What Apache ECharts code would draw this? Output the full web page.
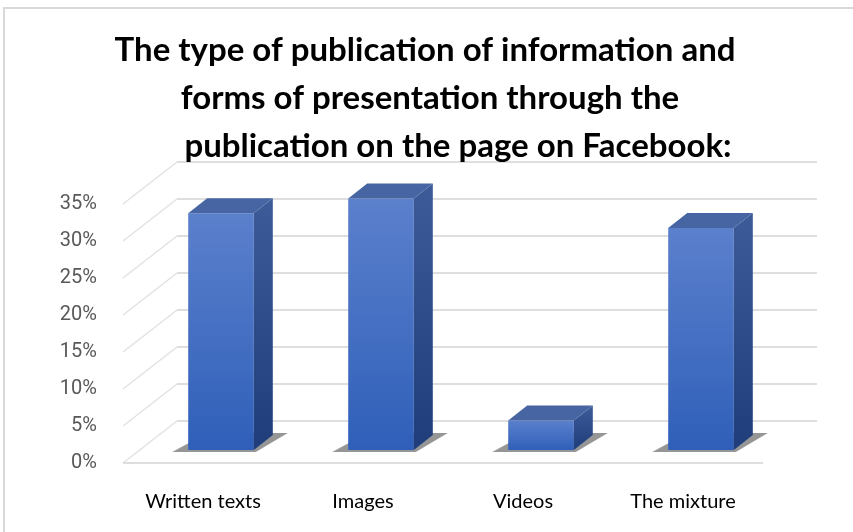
<!DOCTYPE html>
<html>
<head>
<meta charset="utf-8">
<script src="https://cdn.jsdelivr.net/npm/echarts@6/dist/echarts.min.js"></script>
<style>html,body{margin:0;padding:0;background:#fff}#c{width:853px;height:532px}</style>
</head>
<body>
<div id="c"></div>
<script>
const titleLines = [
  'The type of publication of information and',
  'forms of presentation through the',
  'publication on the page on Facebook:'
];
const categories = ['Written texts', 'Images', 'Videos', 'The mixture'];
const values = [32, 34, 4, 30];
const yTicks = [0, 5, 10, 15, 20, 25, 30, 35];

// depth geometry (pixels)
const DX = 54, DY = -42;     // full depth of the floor/back wall
const BX = 18, BY = -13;     // bar front-face offset from front plane
const SX = 19, SY = -15;     // bar depth

const chart = echarts.init(document.getElementById('c'), null, {renderer: 'canvas'});

function renderWall(params, api) {
  const v = api.value(1);
  const cs = params.coordSys;
  const y = api.coord([0, v])[1];
  const x0 = cs.x, x1 = cs.x + cs.width;
  const st = {stroke: '#dedede', lineWidth: 2};
  const ch = [
    {type: 'line', shape: {x1: x0, y1: y, x2: x0 + DX, y2: y + DY}, style: {stroke: '#e2e2e2', lineWidth: 1.5}},
    {type: 'line', shape: {x1: x0 + DX, y1: y + DY, x2: x1 + DX, y2: y + DY}, style: st}
  ];
  if (v === 0) {
    ch.push({type: 'line', shape: {x1: x0, y1: y, x2: x1, y2: y}, style: st});
  }
  return {type: 'group', children: ch};
}

function renderBar(params, api) {
  const idx = api.value(0), v = api.value(1);
  const base = api.coord([idx, 0]);
  const top = api.coord([idx, v]);
  const bw = api.size([1, 0])[0] * 0.41;
  const fx = base[0] + BX - bw / 2;
  const by = base[1] + BY;
  const ty = top[1] + BY;
  const rx = fx + bw;
  return {
    type: 'group',
    children: [
      {type: 'polygon', shape: {points: [[fx - 16, by + 2], [rx + 2, by + 2], [rx + SX + 15, by + SY - 2], [fx + SX, by + SY - 2]]},
        style: {fill: 'rgba(80,80,80,0.6)'}},
      {type: 'rect', shape: {x: fx, y: ty, width: bw, height: by - ty},
        style: {fill: new echarts.graphic.LinearGradient(0, 0, 0, 1, [
          {offset: 0, color: '#5b80cc'}, {offset: 1, color: '#2f5fb9'}])}},
      {type: 'polygon', shape: {points: [[rx, ty], [rx + SX, ty + SY], [rx + SX, by + SY], [rx, by]]},
        style: {fill: new echarts.graphic.LinearGradient(0, 0, 0, 1, [
          {offset: 0, color: '#3c5b98'}, {offset: 1, color: '#1f3d7a'}])}},
      {type: 'polygon', shape: {points: [[fx, ty], [fx + SX, ty + SY], [rx + SX, ty + SY], [rx, ty]]},
        style: {fill: '#4765a2'}}
    ]
  };
}

const titleStyle = {fontFamily: 'Lato', fontSize: 33, fontWeight: 'bold', lineHeight: 48, color: '#000'};
const titleCenters = [425, 430, 458];
const titleTops = [26, 74, 122];

chart.setOption({
  animation: false,
  backgroundColor: '#fff',
  title: titleLines.map((t, i) => ({
    text: t, left: titleCenters[i], top: titleTops[i], textAlign: 'center', padding: 0,
    textStyle: titleStyle
  })),
  graphic: [{
    type: 'rect', shape: {x: 4, y: 8, width: 900, height: 600},
    style: {fill: 'none', stroke: '#d9d9d9', lineWidth: 2}, silent: true, z: -10
  }],
  grid: {left: 123, right: 90, top: 204, bottom: 69, containLabel: false},
  xAxis: {
    type: 'category', data: categories,
    axisLine: {show: false}, axisTick: {show: false}, splitLine: {show: false},
    axisLabel: {color: '#000', fontSize: 20, fontFamily: 'Lato', margin: 29}
  },
  yAxis: {
    type: 'value', min: 0, max: 35, interval: 5,
    axisLine: {show: false}, axisTick: {show: false}, splitLine: {show: false},
    axisLabel: {formatter: '{value}%', color: '#595959', fontSize: 20, fontFamily: 'Roboto', margin: 26}
  },
  series: [
    {type: 'custom', renderItem: renderWall, data: yTicks.map(v => [0, v]), z: 1, silent: true},
    {type: 'custom', renderItem: renderBar, data: values.map((v, i) => [i, v]), z: 2}
  ]
});
</script>
</body>
</html>
